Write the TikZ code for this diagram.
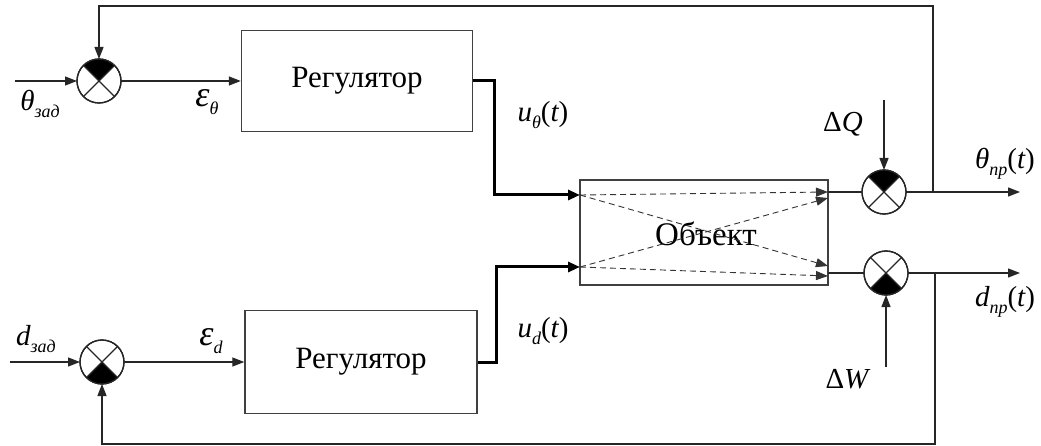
\documentclass[tikz,border=0pt]{standalone}
\usepackage{fontspec}
\setmainfont{Liberation Serif}
\usetikzlibrary{arrows.meta}

\tikzset{
  wire/.style={line width=1.3pt, draw=black!85},
  sig/.style={wire, -{Triangle[length=12pt,width=9pt]}},
  boldsig/.style={line width=3pt, draw=black, -{Triangle[length=12pt,width=10pt]}},
  flowdash/.style={line width=0.9pt, draw=black!80, dash pattern=on 6pt off 4pt,
    -{Triangle[length=12pt,width=9pt]}},
  block/.style={draw=black!75, line width=1.4pt, inner sep=0pt},
  sumcirc/.style={circle, draw=black!85, line width=1.3pt, minimum size=44pt,
    inner sep=0pt, outer sep=0pt},
  lbl/.style={font=\fontsize{29}{34}\selectfont\itshape, inner sep=0pt},
  dlbl/.style={font=\fontsize{29}{34}\selectfont, inner sep=0pt}
}

% summing junction: name, position, start angle of the filled quarter
\newcommand\sumjunction[3]{%
  \node[sumcirc] (#1) at (#2) {};
  \fill (#1.center) -- (#1.#3) arc[start angle=#3, delta angle=90, radius=22pt] -- cycle;
  \draw[line width=1.1pt, black!85] (#1.45) -- (#1.225) (#1.135) -- (#1.315);
  \node[sumcirc] at (#1) {};
}
\newcommand\lsub[2]{#1\raisebox{-0.25em}{\fontsize{18}{21}\selectfont #2}}
\newcommand\oft{\upshape(\itshape t\upshape)}
\newcommand\eps{{\fontsize{36}{40}\selectfont ε}}

\begin{document}
\begin{tikzpicture}[x=1pt,y=1pt]
\useasboundingbox (0,0) rectangle (1041,-446);

% summing junctions
\sumjunction{s1}{99,-81}{45}
\sumjunction{s2}{102,-362}{225}
\sumjunction{s3}{884,-192}{45}
\sumjunction{s4}{886,-273}{225}

% blocks
\node[block, minimum width=231pt, minimum height=101pt] (r1) at (357,-81)
  {\fontsize{31}{36}\selectfont Регулятор};
\node[block, minimum width=232pt, minimum height=103pt] (r2) at (361,-362)
  {\fontsize{31}{36}\selectfont Регулятор};
\node[block, minimum width=248pt, minimum height=105pt] (obj) at (704,-232.5) {};
\node[font=\fontsize{33}{38}\selectfont, inner sep=0pt] (objtext) at (706,-234) {Объект};

% object ports
\coordinate (i1) at (580,-195);
\coordinate (i2) at (580,-267);
\coordinate (o1) at (828,-192);
\coordinate (o1x) at (828,-198);
\coordinate (o2x) at (828,-266);
\coordinate (o2) at (828,-276);

% cross-coupling inside the object
\draw[flowdash] (i1) -- (o1);
\draw[flowdash] (i1) -- (o2x);
\draw[flowdash] (i2) -- (o1x);
\draw[flowdash] (i2) -- (o2);

% inputs and errors
\coordinate (in1) at (15,-81);
\coordinate (in2) at (10,-362);
\draw[sig] (in1) -- (s1.west);
\draw[sig] (in2) -- (s2.west);
\draw[sig] (s1.east) -- (r1.west);
\draw[sig] (s2.east) -- (r2.west);

% control actions
\draw[boldsig] (r1.east) -- ++(21,0) |- (i1);
\draw[boldsig] (r2.east) -- ++(19,0) |- (i2);

% object outputs to disturbance junctions
\draw[wire] (o1) -- (s3.west);
\draw[wire] (828,-273) -- (s4.west);

% disturbances
\coordinate (dq) at (884,-100);
\coordinate (dw) at (886,-367);
\draw[sig] (dq) -- (s3.north);
\draw[sig] (dw) -- (s4.south);

% outputs
\coordinate (y1) at (1020,-192);
\coordinate (y2) at (1020,-273);
\draw[sig] (s3.east) -- (y1);
\draw[sig] (s4.east) -- (y2);

% feedback loops
\coordinate (f1) at (933,-192);
\coordinate (f2) at (935,-273);
\draw[sig] (f1) -- (933,-6) -| (s1.north);
\draw[sig] (f2) -- (935,-444) -| (s2.south);

% labels
\node[lbl] (lthz) at (40,-104) {\lsub{θ}{зад}};
\node[lbl] (ldz) at (36,-339) {\lsub{d}{зад}};
\node[lbl] (leth) at (207,-102) {\lsub{\eps}{θ}};
\node[lbl] (led) at (211,-341) {\lsub{\eps}{d}};
\node[lbl] (luth) at (543,-115) {\lsub{u}{θ}\oft};
\node[lbl] (lud) at (543,-331) {\lsub{u}{d}\oft};
\node[dlbl] (ldq) at (843,-124) {Δ\textit{Q}};
\node[dlbl] (ldw) at (848,-379) {Δ\textit{W}};
\node[lbl] (lthp) at (1005,-164) {\lsub{θ}{пр}\oft};
\node[lbl] (ldp) at (1005,-302) {\lsub{d}{пр}\oft};
\end{tikzpicture}
\end{document}
